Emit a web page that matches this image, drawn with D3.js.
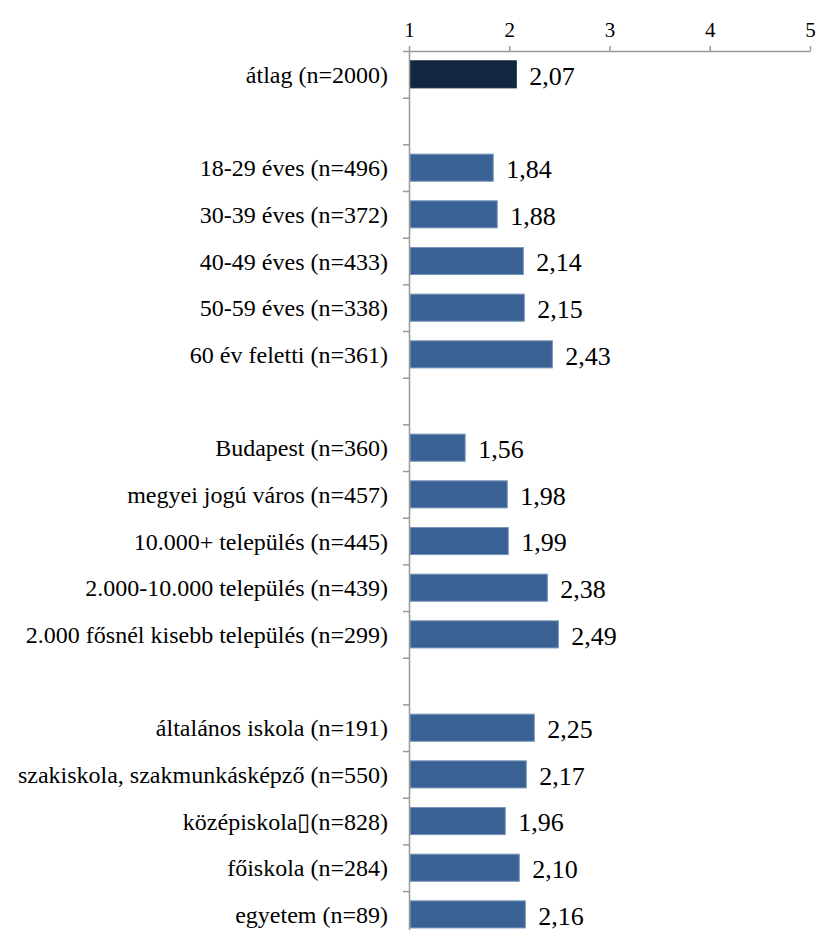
<!DOCTYPE html>
<html>
<head>
<meta charset="utf-8">
<script src="https://cdn.jsdelivr.net/npm/d3@7"></script>
<style>
  body { margin: 0; background: #fff; }
  svg text { font-family: "Liberation Serif", "Times New Roman", serif; }
</style>
</head>
<body>
<div id="chart"></div>
<script>
// categories incl. empty separator rows
var labels = ["átlag (n=2000)", "",
  "18-29 éves (n=496)", "30-39 éves (n=372)", "40-49 éves (n=433)", "50-59 éves (n=338)", "60 év feletti (n=361)", "",
  "Budapest (n=360)", "megyei jogú város (n=457)", "10.000+ település (n=445)", "2.000-10.000 település (n=439)", "2.000 fősnél kisebb település (n=299)", "",
  "általános iskola (n=191)", "szakiskola, szakmunkásképző (n=550)", "középiskola\u25AF(n=828)", "főiskola (n=284)", "egyetem (n=89)"];
var values = [2.07, null,
  1.84, 1.88, 2.14, 2.15, 2.43, null,
  1.56, 1.98, 1.99, 2.38, 2.49, null,
  2.25, 2.17, 1.96, 2.10, 2.16];
var xTicks = [1, 2, 3, 4, 5];

var margin = {top: 51, left: 409, right: 11},
    width = 821 - margin.left - margin.right,
    step = 46.67,
    height = step * labels.length;

var svg = d3.select("#chart")
  .append("svg")
    .attr("width", 821)
    .attr("height", 930)
  .append("g")
    .attr("transform", "translate(" + margin.left + "," + margin.top + ")");

var x = d3.scaleLinear()
  .domain([1, 5])
  .range([0, width]);

var y = d3.scaleBand()
  .domain(d3.range(labels.length))
  .range([0, height])
  .paddingInner(0.42)
  .paddingOuter(0.21);

// boundary scale for the category tick marks
var yb = d3.scaleLinear()
  .domain([0, labels.length])
  .range([0, height]);

// top axis
var xAxis = svg.append("g")
  .call(d3.axisTop(x).tickValues(xTicks).tickFormat(d3.format("d")).tickSizeInner(5).tickSizeOuter(0).tickPadding(9));
xAxis.attr("font-family", null);
xAxis.selectAll("text")
  .style("font-size", "21px")
  .attr("fill", "#000");

// bars
var rows = labels.map(function(l, i) { return {label: l, value: values[i], i: i}; });
var barRows = rows.filter(function(d) { return d.value != null; });

svg.selectAll("rect.bar")
  .data(barRows)
  .enter()
  .append("rect")
    .attr("class", "bar")
    .attr("x", x(1) + 1)
    .attr("y", function(d) { return y(d.i); })
    .attr("width", function(d) { return x(d.value) - x(1) - 1; })
    .attr("height", y.bandwidth())
    .attr("fill", function(d) { return d.i == 0 ? "#12263f" : "#3a6193"; })
    .attr("stroke", function(d) { return d.i == 0 ? "#12263f" : "#7393b8"; })
    .attr("stroke-width", 1);

// left axis, ticks between categories
var yAxis = svg.append("g")
  .call(d3.axisLeft(yb).tickValues(d3.range(0, labels.length + 1)).tickFormat("").tickSizeInner(6).tickSizeOuter(0));

svg.selectAll(".domain, .tick line")
  .attr("stroke", "#999")
  .attr("stroke-width", 1.5);

// value labels
svg.selectAll("text.val")
  .data(barRows)
  .enter()
  .append("text")
    .attr("class", "val")
    .attr("x", function(d) { return x(d.value) + 13; })
    .attr("y", function(d) { return y(d.i) + y.bandwidth() / 2; })
    .attr("dy", "0.4em")
    .style("font-size", "26px")
    .text(function(d) { return d3.format(".2f")(d.value).replace(".", ","); });

// category labels
svg.selectAll("text.cat")
  .data(rows.filter(function(d) { return d.label != ""; }))
  .enter()
  .append("text")
    .attr("class", "cat")
    .attr("x", -21)
    .attr("y", function(d) { return y(d.i) + y.bandwidth() / 2; })
    .attr("dy", "0.36em")
    .attr("text-anchor", "end")
    .style("font-size", "24px")
    .text(function(d) { return d.label; });
</script>
</body>
</html>
